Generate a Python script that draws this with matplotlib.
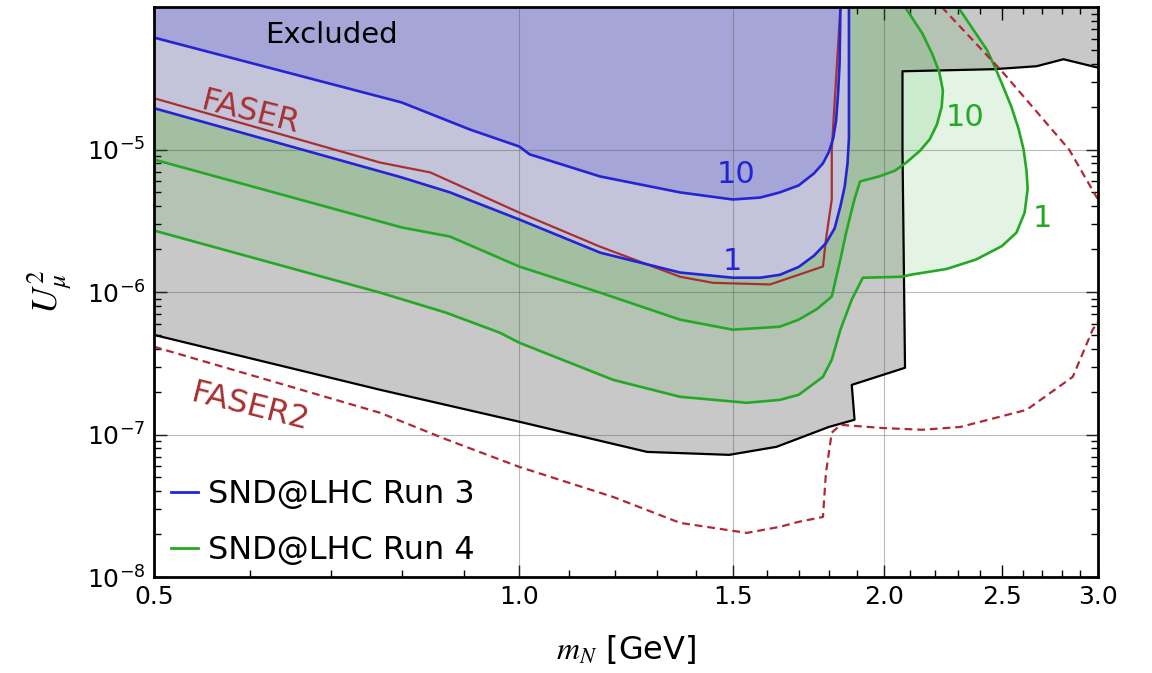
import matplotlib
matplotlib.use("Agg")
import matplotlib.pyplot as plt
from matplotlib.lines import Line2D
from matplotlib.ticker import LogLocator, FixedLocator, NullFormatter

plt.rcParams["font.family"] = ["DejaVu Sans"]
plt.rcParams["mathtext.fontset"] = "stix"

# ---- data (m_N in GeV, U_mu^2) ----
# lower edge of the excluded (grey) region
excl_x = [0.5, 0.768, 1.0, 1.275, 1.49, 1.63, 1.80, 1.89, 1.88, 2.08, 2.07, 2.07, 2.46, 2.67, 2.81, 2.99, 3.0]
excl_y = [5.0e-7, 2.06e-7, 1.23e-7, 7.55e-8, 7.2e-8, 8.2e-8, 1.13e-7, 1.27e-7, 2.23e-7, 2.94e-7, 1.0e-5, 3.54e-5,
          3.66e-5, 3.84e-5, 4.3e-5, 3.78e-5, 3.78e-5]

# SND@LHC Run 3, 10 events and 1 event contours
run3_10_x = [0.5, 0.80, 0.911, 1.0, 1.02, 1.166, 1.357, 1.5, 1.58, 1.64, 1.70, 1.75, 1.78, 1.80, 1.815, 1.825,
             1.832, 1.837, 1.84]
run3_10_y = [6.1e-5, 2.14e-5, 1.38e-5, 1.05e-5, 9.25e-6, 6.47e-6, 5.0e-6, 4.46e-6, 4.6e-6, 5.0e-6, 5.6e-6,
             6.8e-6, 8.0e-6, 9.6e-6, 1.2e-5, 1.6e-5, 2.5e-5, 4.0e-5, 1.0e-4]
run3_1_x = [0.5, 0.80, 0.877, 1.0, 1.166, 1.357, 1.5, 1.58, 1.64, 1.70, 1.75, 1.79, 1.82, 1.84, 1.855, 1.865,
            1.87, 1.87]
run3_1_y = [1.95e-5, 6.37e-6, 5.0e-6, 3.23e-6, 1.89e-6, 1.37e-6, 1.26e-6, 1.26e-6, 1.32e-6, 1.5e-6, 1.8e-6,
            2.2e-6, 2.8e-6, 4.0e-6, 5.5e-6, 8.0e-6, 1.2e-5, 1.0e-4]

# SND@LHC Run 4, 10 events and 1 event contours
run4_10_x = [0.5, 0.80, 0.877, 1.0, 1.166, 1.357, 1.5, 1.64, 1.70, 1.76, 1.81, 1.84, 1.86, 1.89, 1.91, 1.98,
             2.04, 2.085, 2.14, 2.18, 2.21, 2.23, 2.235, 2.22, 2.19, 2.15, 2.08]
run4_10_y = [8.5e-6, 2.84e-6, 2.45e-6, 1.51e-6, 9.9e-7, 6.4e-7, 5.44e-7, 5.71e-7, 6.4e-7, 7.6e-7, 9.3e-7,
             1.7e-6, 2.61e-6, 4.5e-6, 5.97e-6, 6.47e-6, 7.1e-6, 8.1e-6, 9.8e-6, 1.18e-5, 1.5e-5, 2.0e-5, 2.6e-5,
             3.48e-5, 4.7e-5, 6.5e-5, 1.0e-4]
run4_1_x = [0.5, 0.768, 0.87, 0.964, 1.0, 1.195, 1.357, 1.54, 1.64, 1.70, 1.78, 1.81, 1.84, 1.88, 1.92, 2.07,
            2.10, 2.25, 2.38, 2.50, 2.57, 2.61, 2.625, 2.62, 2.605, 2.58, 2.545, 2.50, 2.47, 2.43, 2.38, 2.30]
run4_1_y = [2.7e-6, 9.9e-7, 7.17e-7, 5.18e-7, 4.41e-7, 2.42e-7, 1.84e-7, 1.67e-7, 1.75e-7, 1.9e-7, 2.54e-7,
            3.35e-7, 5.44e-7, 8.85e-7, 1.26e-6, 1.28e-6, 1.32e-6, 1.45e-6, 1.69e-6, 2.1e-6, 2.61e-6, 3.6e-6,
            5.25e-6, 7.0e-6, 1.0e-5, 1.4e-5, 2.0e-5, 2.9e-5, 3.7e-5, 5.0e-5, 6.5e-5, 1.0e-4]

# FASER (solid) and FASER2 (dashed, two branches)
faser_x = [0.5, 0.768, 0.845, 1.0, 1.166, 1.357, 1.445, 1.61, 1.78, 1.79, 1.81, 1.81, 1.84]
faser_y = [2.29e-5, 8.1e-6, 6.9e-6, 3.61e-6, 2.08e-6, 1.28e-6, 1.16e-6, 1.13e-6, 1.51e-6, 2.33e-6, 4.46e-6,
           1.0e-5, 1.0e-4]
faser2_lo_x = [0.5, 0.768, 0.872, 1.0, 1.195, 1.357, 1.54, 1.64, 1.70, 1.78, 1.79, 1.81, 1.84, 1.995, 2.15,
               2.31, 2.62, 2.86, 2.97, 3.0]
faser2_lo_y = [4.13e-7, 1.42e-7, 9.2e-8, 5.93e-8, 3.65e-8, 2.4e-8, 2.04e-8, 2.25e-8, 2.44e-8, 2.64e-8, 5.38e-8,
               1.03e-7, 1.17e-7, 1.11e-7, 1.08e-7, 1.13e-7, 1.49e-7, 2.54e-7, 5.44e-7, 6.2e-7]
faser2_hi_x = [2.23, 2.50, 2.84, 2.99, 3.0]
faser2_hi_y = [1.0e-4, 3.54e-5, 1.0e-5, 4.68e-6, 4.5e-6]

xticks = [0.5, 1.0, 1.5, 2.0, 2.5, 3.0]
xtick_labels = ["0.5", "1.0", "1.5", "2.0", "2.5", "3.0"]
yticks = [1e-8, 1e-7, 1e-6, 1e-5]

xlo, xhi = 0.5, 3.0
ylo, yhi = 1e-8, 1e-4

blue = "#2424d6"
green = "#25a825"
red = "#a83030"

fig = plt.figure(figsize=(11.52, 6.73), dpi=100)
ax = fig.add_axes([0.1337, 0.1426, 0.8194, 0.8470])
ax.set_xscale("log")
ax.set_yscale("log")
ax.set_xlim(xlo, xhi)
ax.set_ylim(ylo, yhi)

# filled regions (closed along the top of the frame)
ax.fill(excl_x + [xhi, xlo], excl_y + [yhi, yhi], color="#c8c8c8", lw=0, zorder=1)
ax.fill(run4_1_x + [xlo], run4_1_y + [yhi], color="#12a012", alpha=0.11, lw=0, zorder=2)
ax.fill(run4_10_x + [xlo], run4_10_y + [yhi], color="#12a012", alpha=0.11, lw=0, zorder=3)
ax.fill(run3_1_x + [xlo], run3_1_y + [yhi], color="#c3c3da", lw=0, zorder=4)
ax.fill(run3_10_x + [xlo], run3_10_y + [yhi], color="#a5a5d8", lw=0, zorder=5)

# grid
for gx in xticks[1:4]:
    ax.axvline(gx, color="#555555", lw=0.8, alpha=0.4, zorder=6)
for gy in yticks[1:]:
    ax.axhline(gy, color="#555555", lw=0.8, alpha=0.4, zorder=6)

# curves
ax.plot(excl_x, excl_y, color="black", lw=1.6, zorder=7)
ax.plot(run4_1_x, run4_1_y, color=green, lw=1.9, zorder=7)
ax.plot(run4_10_x, run4_10_y, color=green, lw=1.9, zorder=7)
ax.plot(faser_x, faser_y, color=red, lw=1.6, zorder=7)
ax.plot(run3_1_x, run3_1_y, color=blue, lw=1.9, zorder=8)
ax.plot(run3_10_x, run3_10_y, color=blue, lw=1.9, zorder=8)
ax.plot(faser2_lo_x, faser2_lo_y, color="#b02838", lw=1.6, dashes=(3.5, 2.2), zorder=7)
ax.plot(faser2_hi_x, faser2_hi_y, color="#b02838", lw=1.6, dashes=(3.5, 2.2), zorder=7)

# labels inside the plot
ax.text(0.70, 6.4e-5, "Excluded", fontsize=21, ha="center", va="center", zorder=9)
ax.text(0.60, 1.8e-5, "FASER", fontsize=23, color=red, rotation=-14, ha="center", va="center", zorder=9)
ax.text(0.60, 1.54e-7, "FASER2", fontsize=23, color=red, rotation=-14, ha="center", va="center", zorder=9)
ax.text(1.51, 6.7e-6, "10", fontsize=22, color=blue, ha="center", va="center", zorder=9)
ax.text(1.50, 1.64e-6, "1", fontsize=22, color=blue, ha="center", va="center", zorder=9)
ax.text(2.33, 1.68e-5, "10", fontsize=22, color=green, ha="center", va="center", zorder=9)
ax.text(2.70, 3.3e-6, "1", fontsize=22, color=green, ha="center", va="center", zorder=9)

# ticks
ax.xaxis.set_major_locator(FixedLocator(xticks))
ax.xaxis.set_minor_locator(FixedLocator([0.6, 0.7, 0.8, 0.9, 1.1, 1.2, 1.3, 1.4, 1.6, 1.7, 1.8, 1.9,
                                         2.1, 2.2, 2.3, 2.4, 2.6, 2.7, 2.8, 2.9]))
ax.set_xticklabels(xtick_labels)
ax.xaxis.set_minor_formatter(NullFormatter())
ax.yaxis.set_major_locator(FixedLocator(yticks))
ax.yaxis.set_minor_locator(LogLocator(base=10, subs=range(2, 10), numticks=10))
ax.yaxis.set_minor_formatter(NullFormatter())
ax.tick_params(which="both", direction="in", top=True, right=True, labelsize=18, width=1.0)
ax.tick_params(which="major", length=9)
ax.tick_params(which="minor", length=5)
ax.tick_params(axis="x", pad=6)
ax.tick_params(axis="y", pad=6)
for sp in ax.spines.values():
    sp.set_linewidth(2.0)
    sp.set_zorder(10)

ax.set_xlabel(r"$m_N$ [GeV]", fontsize=23, labelpad=17)
ax.set_ylabel(r"$U_\mu^2$", fontsize=26, labelpad=9)

handles = [Line2D([], [], color=blue, lw=2), Line2D([], [], color=green, lw=2)]
ax.legend(handles, ["SND@LHC Run 3", "SND@LHC Run 4"], loc="lower left", bbox_to_anchor=(0.011, 0.008),
          frameon=False, fontsize=23, handlelength=0.85, handletextpad=0.3, labelspacing=0.78,
          borderpad=0.2, borderaxespad=0)

fig.savefig("out.png", dpi=100)
